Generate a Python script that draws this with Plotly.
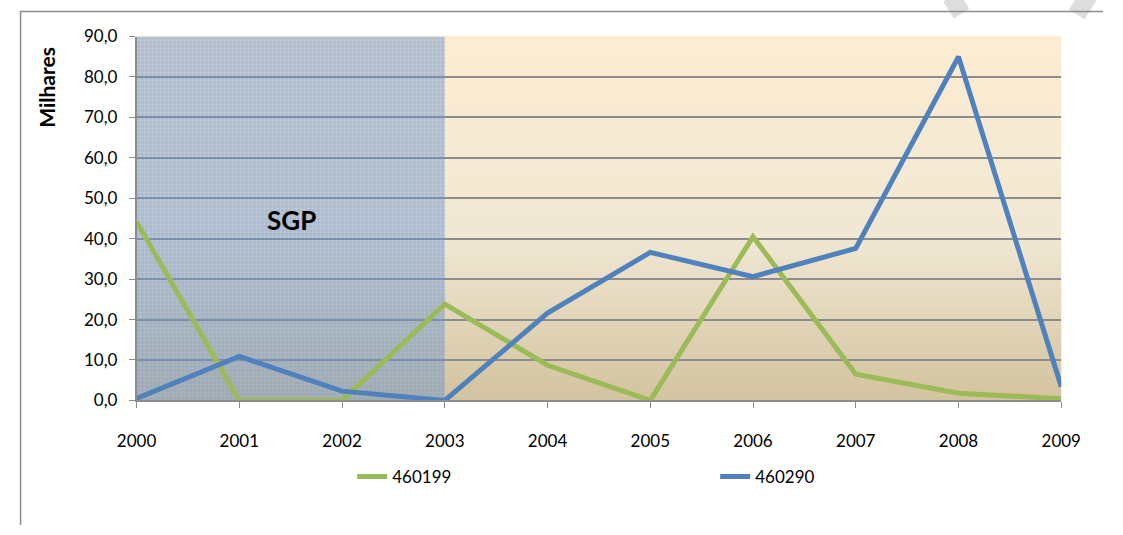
import plotly.graph_objects as go

years = [2000, 2001, 2002, 2003, 2004, 2005, 2006, 2007, 2008, 2009]
s460199 = [44.2, 0.0, 0.0, 23.8, 8.7, 0.0, 40.5, 6.5, 1.8, 0.4]
s460290 = [0.5, 10.9, 2.3, 0.0, 21.6, 36.6, 30.6, 37.6, 85.0, 3.4]
sgp_label = "SGP"
y_title = "Milhares"
sgp_start, sgp_end = 2000, 2003
y_max = 90
y_ticks = [0, 10, 20, 30, 40, 50, 60, 70, 80, 90]

GREEN = "#9BBB59"
BLUE = "#4F81BD"
FONT = "Lato"

# paper spans pixels x 8..1123, y 11..535 (margins l=8, t=11)
PL, PT, PW, PH = 8, 11, 1115, 524
def px(xp):
    return (xp - PL) / PW
def py(yp):
    return (PT + PH - yp) / PH

fig = go.Figure()

# SGP shaded period (two patterned layers to form a fine grid)
for shape_ch, bg in (("|", "rgba(110,145,195,0.36)"), ("-", "rgba(0,0,0,0)")):
    fig.add_trace(go.Scatter(
        x=[sgp_start, sgp_end, sgp_end, sgp_start, sgp_start],
        y=[0, 0, y_max, y_max, 0],
        mode="lines", line=dict(width=0), fill="toself",
        fillcolor="rgba(0,0,0,0)",
        fillpattern=dict(shape=shape_ch, fgcolor="rgba(100,150,225,0.75)",
                         bgcolor=bg, size=4, solidity=0.25),
        showlegend=False, hoverinfo="skip"))

fig.add_trace(go.Scatter(x=years, y=s460199, name="460199", mode="lines",
                         line=dict(color=GREEN, width=5)))
fig.add_trace(go.Scatter(x=years, y=s460290, name="460290", mode="lines",
                         line=dict(color=BLUE, width=5)))

# gradient background of plot area
stops = [(0.0, (211, 194, 158)), (0.45, (240, 232, 212)), (1.0, (253, 236, 209))]
def col(t):
    for (t0, c0), (t1, c1) in zip(stops[:-1], stops[1:]):
        if t0 <= t <= t1:
            f = (t - t0) / (t1 - t0)
            return "rgb(%d,%d,%d)" % tuple(round(a + (b - a) * f) for a, b in zip(c0, c1))
    return "rgb(%d,%d,%d)" % stops[-1][1]
N = 80
shapes = []
for i in range(N):
    shapes.append(dict(type="rect", xref="x domain", yref="y domain",
                       x0=0, x1=1, y0=i / N, y1=(i + 1) / N + 0.002,
                       fillcolor=col((i + 0.5) / N), line=dict(width=0), layer="below"))
# faint watermark strokes at top right
shapes.append(dict(type="line", xref="paper", yref="paper",
                   x0=px(964), y0=py(10), x1=px(980), y1=py(0),
                   line=dict(color="#DDDDDD", width=20)))
shapes.append(dict(type="line", xref="paper", yref="paper",
                   x0=px(1094), y0=py(0), x1=px(1110), y1=py(10),
                   line=dict(color="#DDDDDD", width=22)))
# outer chart border: left and top edges
shapes.append(dict(type="line", xref="paper", yref="paper",
                   x0=0.0005, x1=0.0005, y0=0, y1=0.999,
                   line=dict(color="#8C8C8C", width=1.5)))
shapes.append(dict(type="line", xref="paper", yref="paper",
                   x0=0, x1=1, y0=0.999, y1=0.999,
                   line=dict(color="#8C8C8C", width=1.5)))

fig.update_layout(
    width=1123, height=535,
    margin=dict(l=PL, r=0, t=PT, b=0),
    paper_bgcolor="white", plot_bgcolor="rgba(0,0,0,0)",
    separators=", ",
    font=dict(family=FONT, size=17, color="black"),
    shapes=shapes,
    showlegend=True,
    legend=dict(orientation="h", x=px(350), xanchor="left",
                y=py(486), yanchor="middle",
                entrywidth=318, entrywidthmode="pixels",
                font=dict(family=FONT, size=17), bgcolor="rgba(0,0,0,0)"),
    annotations=[
        dict(x=2001.51, y=44.7, xref="x", yref="y", text="<b>%s</b>" % sgp_label,
             showarrow=False, font=dict(family=FONT, size=26, color="black")),
        dict(x=px(35), y=py(89), xref="paper", yref="paper", text="<b>%s</b>" % y_title,
             textangle=-90, showarrow=False, xanchor="center", yanchor="middle",
             font=dict(family=FONT, size=21, color="black")),
    ],
)
fig.update_xaxes(domain=[px(128), px(1080)], range=[2000, 2009], tickvals=years,
                 ticks="outside", ticklen=6,
                 tickcolor="#8C8C8C", showline=True, linecolor="#8C8C8C", linewidth=1.5,
                 showgrid=False, zeroline=False, ticklabelstandoff=18,
                 tickfont=dict(size=17))
fig.update_yaxes(domain=[py(408), py(37)], range=[0, y_max], tickvals=y_ticks,
                 tickformat=".1f", ticks="outside",
                 ticklen=6, tickcolor="#8C8C8C", showline=True, linecolor="#8C8C8C",
                 linewidth=1.5, showgrid=True, gridcolor="#8C8C8C", gridwidth=1.5,
                 zeroline=False, ticklabelstandoff=8, tickfont=dict(size=17))

fig.write_html("out.html")
